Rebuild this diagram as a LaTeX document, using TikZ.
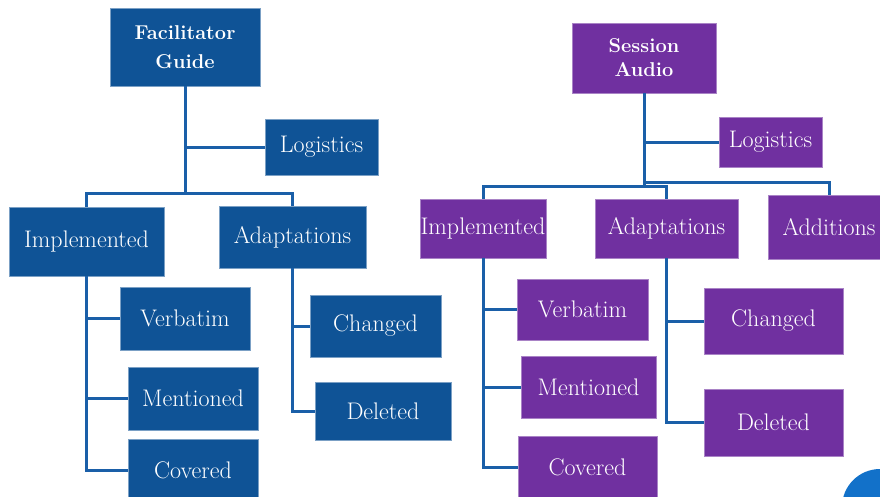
\documentclass[tikz,border=0pt]{standalone}
\usepackage{tikz}
\usetikzlibrary{positioning}
\definecolor{guide}{HTML}{0F5396}
\definecolor{audio}{HTML}{7030A0}
\definecolor{wire}{HTML}{1A5FA8}
\definecolor{dot}{HTML}{1271C9}

\begin{document}
\begin{tikzpicture}[x=1pt, y=-1pt,
  gbox/.style={fill=guide, draw=guide!55!white, line width=0.8pt, text=white, align=center, inner sep=0pt,
    font=\fontsize{24}{28}\selectfont},
  abox/.style={gbox, fill=audio, draw=audio!60!white},
  head/.style={font=\fontsize{20}{24}\selectfont\bfseries},
  link/.style={draw=wire, line width=3pt}]
\useasboundingbox (0,0) rectangle (880,496);
\clip (0,0) rectangle (880,496);
\fill[white] (0,0) rectangle (880,496);
% facilitator guide
\node[gbox, head, minimum width=150pt, minimum height=78pt] (fg) at (185,47) {Facilitator\\[5pt]Guide};
\node[gbox, minimum width=113pt, minimum height=56pt] (logL) at (321.5,147) {Logistics};
\node[gbox, minimum width=155pt, minimum height=69pt] (implL) at (86.5,241.5) {Implemented};
\node[gbox, minimum width=147pt, minimum height=62pt] (adL) at (292.5,237) {Adaptations};
\node[gbox, minimum width=130pt, minimum height=63pt] (verL) at (185,318.5) {Verbatim};
\node[gbox, minimum width=130pt, minimum height=63pt] (menL) at (193,398.5) {Mentioned};
\node[gbox, minimum width=130pt, minimum height=62pt] (covL) at (193,470) {Covered};
\node[gbox, minimum width=131pt, minimum height=62pt] (chL) at (375.5,326) {Changed};
\node[gbox, minimum width=136pt, minimum height=58pt] (delL) at (383,411) {Deleted};
\coordinate (busL) at (185,193);
\draw[link] (fg.south) |- (logL.west);
\draw[link] (fg.south) -- (busL);
\draw[link] (implL.north) |- (busL) -| (adL.north);
\draw[link] (implL.south) |- (verL.west);
\draw[link] (implL.south) |- (menL.west);
\draw[link] (implL.south) |- (covL.west);
\draw[link] (adL.south) |- (chL.west);
\draw[link] (adL.south) |- (delL.west);
% session audio
\node[abox, head, minimum width=144pt, minimum height=70pt] (sa) at (644,58) {Session\\Audio};
\node[abox, minimum width=103pt, minimum height=50pt] (logR) at (770.5,142) {Logistics};
\node[abox, minimum width=126pt, minimum height=59pt] (implR) at (483,228.5) {Implemented};
\node[abox, minimum width=143pt, minimum height=59pt] (adR) at (666.5,228.5) {Adaptations};
\node[abox, minimum width=122pt, minimum height=64pt] (addR) at (829,227) {Additions};
\node[abox, minimum width=131pt, minimum height=61pt] (verR) at (582.5,309.5) {Verbatim};
\node[abox, minimum width=135pt, minimum height=62pt] (menR) at (588.5,387) {Mentioned};
\node[abox, minimum width=139pt, minimum height=62pt] (covR) at (587.5,467) {Covered};
\node[abox, minimum width=139pt, minimum height=66pt] (chR) at (773.5,321) {Changed};
\node[abox, minimum width=139pt, minimum height=67pt] (delR) at (773.5,422.5) {Deleted};
\coordinate (busR) at (644,186);
\coordinate (busA) at (644,182);
\draw[link] (sa.south) |- (logR.west);
\draw[link] (sa.south) -- (busR);
\draw[link] (implR.north) |- (busR) -| (adR.north);
\draw[link] (busA) -| (addR.north);
\draw[link] (implR.south) |- (verR.west);
\draw[link] (implR.south) |- (menR.west);
\draw[link] (implR.south) |- (covR.west);
\draw[link] (adR.south) |- (chR.west);
\draw[link] (adR.south) |- (delR.west);
% page number
\node[circle, fill=dot, minimum size=76pt, inner sep=0pt, text=white, font=\fontsize{22}{26}\selectfont] (pg) at (880,507) {\hspace*{-22pt}14};
\end{tikzpicture}
\end{document}
